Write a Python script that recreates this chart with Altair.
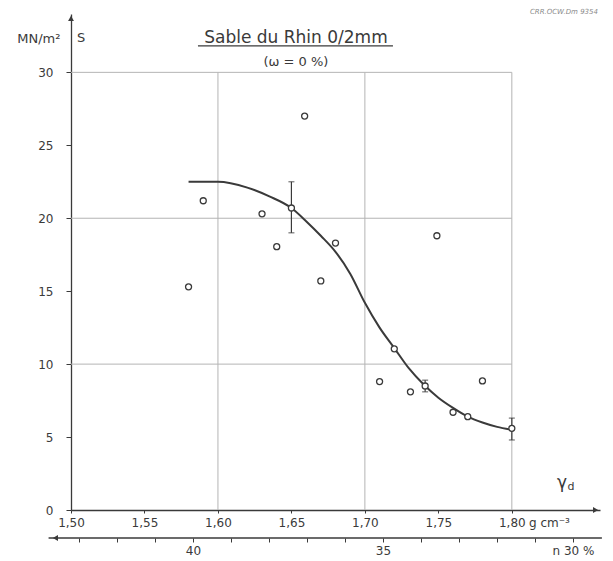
import altair as alt
import pandas as pd

# ---- data ----
gd_pts = [1.580, 1.590, 1.630, 1.640, 1.650, 1.659, 1.670, 1.680, 1.710,
          1.720, 1.731, 1.741, 1.749, 1.760, 1.770, 1.780, 1.800]
s_pts = [15.3, 21.2, 20.3, 18.05, 20.7, 27.0, 15.7, 18.3, 8.8,
         11.05, 8.1, 8.5, 18.8, 6.7, 6.4, 8.85, 5.6]

err_gd = [1.650, 1.741, 1.800]
err_lo = [19.0, 8.1, 4.8]
err_hi = [22.5, 8.9, 6.3]

curve_gd = [1.580, 1.600, 1.620, 1.635, 1.650, 1.660, 1.670, 1.680, 1.690, 1.700,
            1.710, 1.720, 1.730, 1.740, 1.750, 1.760, 1.770, 1.780, 1.790, 1.800]
curve_s = [22.5, 22.5, 22.1, 21.5, 20.7, 19.8, 18.8, 17.7, 16.2, 14.2,
           12.5, 11.1, 9.7, 8.6, 7.7, 7.0, 6.4, 6.0, 5.7, 5.5]

x_ticks = [1.50, 1.55, 1.60, 1.65, 1.70, 1.75, 1.80]
y_ticks = [0, 5, 10, 15, 20, 25, 30]
n_ticks = list(range(30, 44))
vgrid = [1.60, 1.70, 1.80]
hgrid = [10, 20, 30]

INK = '#3a3a3a'
GRID = '#b4b4b4'
FONT = 'DejaVu Sans'

xs = alt.Scale(domain=[1.50, 1.86], nice=False, zero=False)
ys = alt.Scale(domain=[0, 34], nice=False, zero=False)
ns = alt.Scale(domain=[29.29, 43.21], reverse=True, nice=False, zero=False)

xaxis = alt.Axis(values=x_ticks, orient='bottom', title=None, grid=False,
                 labelExpr="replace(format(datum.value, '.2f'), '.', ',')",
                 tickSize=3, tickColor=INK, domainColor=INK, domainWidth=1.3,
                 labelColor=INK, labelFont=FONT, labelFontSize=12, labelPadding=4,
                 labelOverlap=False, labelFlush=False)
yaxis = alt.Axis(values=y_ticks, title='MN/m²', titleAngle=0, titleAlign='right',
                 titleBaseline='middle', titleX=-11, titleY=24, titleFont=FONT,
                 titleFontSize=13, titleFontWeight='normal', titleColor=INK,
                 grid=False, tickSize=5, tickColor=INK, domainColor=INK, domainWidth=1.3,
                 labelColor=INK, labelFont=FONT, labelFontSize=12, labelPadding=13,
                 labelOverlap=False, labelFlush=False)
naxis = alt.Axis(values=n_ticks, orient='bottom', offset=28, domain=False, title=None,
                 grid=False, tickSize=4, tickColor=INK,
                 labelExpr="datum.value == 40 ? '40' : datum.value == 35 ? '35' : datum.value == 30 ? 'n 30 %' : ''",
                 labelColor=INK, labelFont=FONT, labelFontSize=12, labelPadding=3,
                 labelOverlap=False, labelFlush=False, labelBound=False)


def X(f='x'):
    return alt.X(f'{f}:Q', scale=xs, axis=xaxis)


def Y(f='y'):
    return alt.Y(f'{f}:Q', scale=ys, axis=yaxis)


vg = alt.Chart(pd.DataFrame({'x': vgrid, 'y': [0] * 3, 'y2': [30] * 3})).mark_rule(
    color=GRID, strokeWidth=1).encode(x=X(), y=Y(), y2='y2:Q')
hg = alt.Chart(pd.DataFrame({'y': hgrid, 'x': [1.50] * 3, 'x2': [1.80] * 3})).mark_rule(
    color=GRID, strokeWidth=1).encode(x=X(), x2='x2:Q', y=Y())

curve = alt.Chart(pd.DataFrame({'x': curve_gd, 'y': curve_s})).mark_line(
    interpolate='monotone', color=INK, strokeWidth=2).encode(x=X(), y=Y())

err_df = pd.DataFrame({'x': err_gd, 'y': err_lo, 'y2': err_hi})
err = alt.Chart(err_df).mark_rule(color=INK, strokeWidth=1.2).encode(x=X(), y=Y(), y2='y2:Q')
cap_df = pd.DataFrame({'x': err_gd * 2, 'y': err_lo + err_hi})
caps = alt.Chart(cap_df).mark_tick(orient='horizontal', size=6, thickness=1.2, color=INK).encode(
    x=X(), y=Y())

pts = alt.Chart(pd.DataFrame({'x': gd_pts, 'y': s_pts})).mark_point(
    shape='circle', size=36, fill='white', stroke=INK, strokeWidth=1.3,
    opacity=1, fillOpacity=1).encode(x=X(), y=Y())

# axis arrow heads
arr_up = alt.Chart(pd.DataFrame({'x': [1.50], 'y': [33.7]})).mark_point(
    shape='triangle-up', filled=True, size=35, color=INK, opacity=1).encode(x=X(), y=Y())
arr_right = alt.Chart(pd.DataFrame({'x': [1.857], 'y': [0]})).mark_point(
    shape='triangle-right', filled=True, size=35, color=INK, opacity=1).encode(x=X(), y=Y())

# annotations
title = alt.Chart(pd.DataFrame({'x': [1.6531], 'y': [32.36], 't': ['Sable du Rhin 0/2mm']})).mark_text(
    font=FONT, fontSize=17, color=INK, align='center', baseline='middle').encode(
    x=X(), y=Y(), text='t:N')
subtitle = alt.Chart(pd.DataFrame({'x': [1.6531], 'y': [30.71], 't': ['(ω = 0 %)']})).mark_text(
    font=FONT, fontSize=13, color=INK, align='center', baseline='middle').encode(
    x=X(), y=Y(), text='t:N')
underline = alt.Chart(pd.DataFrame({'x': [1.5864], 'x2': [1.7191], 'y': [31.81]})).mark_rule(
    color=INK, strokeWidth=1.3).encode(x=X(), x2='x2:Q', y=Y())
corner = alt.Chart(pd.DataFrame({'x': [1.8586], 'y': [34.14], 't': ['CRR.OCW.Dm 9354']})).mark_text(
    font=FONT, fontSize=7, fontStyle='italic', color='#8a8a8a', align='right', baseline='middle').encode(
    x=X(), y=Y(), text='t:N')
s_lab = alt.Chart(pd.DataFrame({'x': [1.5041], 'y': [32.36], 't': ['S']})).mark_text(
    font=FONT, fontSize=13, color=INK, align='left', baseline='middle').encode(
    x=X(), y=Y(), text='t:N')
gamma = alt.Chart(pd.DataFrame({'x': [1.8341], 'y': [1.85], 't': ['γ']})).mark_text(
    font=FONT, fontSize=17, color=INK, align='center', baseline='middle').encode(
    x=X(), y=Y(), text='t:N')
gamma_d = alt.Chart(pd.DataFrame({'x': [1.8378], 'y': [1.55], 't': ['d']})).mark_text(
    font=FONT, fontSize=11, color=INK, align='left', baseline='middle').encode(
    x=X(), y=Y(), text='t:N')
unit = alt.Chart(pd.DataFrame({'x': [1.8117], 'y': [-0.89], 't': ['g cm⁻³']})).mark_text(
    font=FONT, fontSize=12, color=INK, align='left', baseline='middle').encode(
    x=X(), y=Y(), text='t:N')

# porosity axis (n)
n_line = alt.Chart(pd.DataFrame({'n': [43.8], 'n2': [29.24], 'y': [-1.92]})).mark_rule(
    color=INK, strokeWidth=1.3).encode(
    x=alt.X('n:Q', scale=ns, axis=naxis), x2='n2:Q', y=Y())
n_arrow = alt.Chart(pd.DataFrame({'n': [43.62], 'y': [-1.92]})).mark_point(
    shape='triangle-left', filled=True, size=35, color=INK, opacity=1).encode(
    x=alt.X('n:Q', scale=ns, axis=naxis), y=Y())

gd_layer = alt.layer(
    vg, hg, curve, err, caps, pts, arr_up, arr_right,
    title, subtitle, underline, corner, s_lab, gamma, gamma_d, unit
)
n_layer = alt.layer(n_line, n_arrow)

chart = alt.layer(gd_layer, n_layer).resolve_scale(x='independent').properties(
    width=529, height=496,
    autosize='none',
    padding={'left': 71, 'top': 14, 'right': 13, 'bottom': 51},
    background='white'
).configure_view(stroke=None)

chart.save("out.html", embed_options={"renderer": "svg", "actions": False})
